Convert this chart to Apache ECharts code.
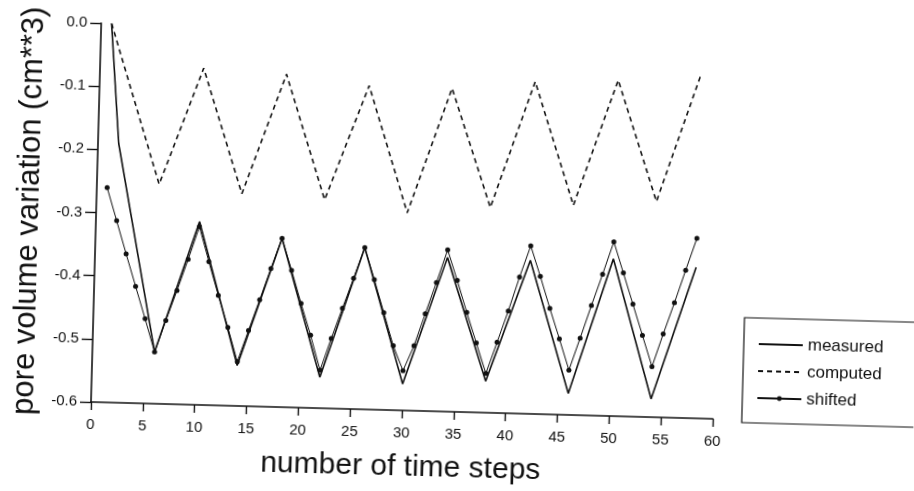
<!DOCTYPE html>
<html>
<head>
<meta charset="utf-8">
<script src="https://cdn.jsdelivr.net/npm/echarts@6/dist/echarts.min.js"></script>
<style>
  html, body { margin: 0; padding: 0; background: #fff; overflow: hidden; }
  /* the original is a slightly tilted scan, so tilt the whole chart about the axis origin */
  #chart { width: 914px; height: 491px; transform: rotate(1.55deg); transform-origin: 91px 402px; }
</style>
</head>
<body>
<div id="chart"></div>
<script>
// measured: vertices of the measured curve
var measuredSteps = [1, 2, 6, 10, 14, 18, 22, 26, 30, 34, 38, 42, 46, 50, 54, 58];
var measuredValues = [0.0, -0.19, -0.518, -0.31, -0.536, -0.333, -0.551, -0.344, -0.558,
  -0.356, -0.55, -0.357, -0.566, -0.351, -0.571, -0.361];

// computed (dashed)
var computedSteps = [1, 6, 10, 14, 18, 22, 26, 30, 34, 38, 42, 46, 50, 54, 58];
var computedValues = [0.0, -0.2525, -0.067, -0.264, -0.073, -0.27, -0.0875, -0.287, -0.088,
  -0.275, -0.074, -0.268, -0.068, -0.2585, -0.054];

// shifted: one dot per time step, 1..58
var shiftedSteps = [];
for (var i = 1; i <= 58; i++) shiftedSteps.push(i);
var shiftedValues = [
  -0.26, -0.312, -0.364, -0.415, -0.466, -0.518, -0.468, -0.42, -0.37, -0.318,
  -0.373, -0.426, -0.476, -0.53, -0.48, -0.431, -0.381, -0.333, -0.383, -0.435,
  -0.485, -0.54, -0.489, -0.441, -0.393, -0.344, -0.394, -0.446, -0.498, -0.537,
  -0.497, -0.446, -0.396, -0.344, -0.392, -0.442, -0.49, -0.538, -0.488, -0.438,
  -0.384, -0.334, -0.382, -0.432, -0.48, -0.529, -0.478, -0.426, -0.376, -0.324,
  -0.373, -0.422, -0.471, -0.52, -0.468, -0.418, -0.366, -0.315
];

var seriesNames = ['measured', 'computed', 'shifted'];

function pairs(xs, ys) {
  return xs.map(function (x, k) { return [x, ys[k]]; });
}

var font = 'Liberation Sans';
var ink = '#111';
var noDot = { color: 'rgba(0,0,0,0)', borderColor: 'rgba(0,0,0,0)', borderWidth: 0 };

var myChart = echarts.init(document.getElementById('chart'));
var option = {
  animation: false,
  backgroundColor: '#fff',
  grid: { left: 91, right: 201, top: 23, bottom: 89, outerBoundsMode: 'none' },
  legend: {
    data: [
      { name: seriesNames[0], itemStyle: noDot },
      { name: seriesNames[1], itemStyle: noDot },
      { name: seriesNames[2] }
    ],
    orient: 'vertical',
    left: 742,
    top: 300,
    borderColor: ink,
    borderWidth: 1.2,
    padding: [17, 40, 16, 14],
    itemGap: 9,
    itemWidth: 44,
    itemHeight: 6,
    itemTextGap: 12,
    textStyle: { fontFamily: font, fontSize: 17, lineHeight: 18, color: ink }
  },
  xAxis: {
    type: 'value',
    min: 0,
    max: 60,
    interval: 5,
    name: 'number of time steps',
    nameLocation: 'middle',
    nameGap: 42,
    nameTextStyle: { fontFamily: font, fontSize: 30, color: ink },
    axisLine: { onZero: false, lineStyle: { color: ink, width: 1.6 } },
    axisTick: { length: 8, lineStyle: { color: ink, width: 1.4 } },
    axisLabel: { fontFamily: font, fontSize: 15, color: ink, margin: 15 },
    splitLine: { show: false }
  },
  yAxis: {
    type: 'value',
    min: -0.6,
    max: 0,
    interval: 0.1,
    name: 'pore volume variation (cm**3)',
    nameLocation: 'middle',
    nameGap: 50,
    nameTextStyle: { fontFamily: font, fontSize: 31, color: ink },
    axisLine: { show: true, onZero: false, lineStyle: { color: ink, width: 1.6 } },
    axisTick: { show: true, length: 11, lineStyle: { color: ink, width: 1.4 } },
    axisLabel: {
      fontFamily: font, fontSize: 15, color: ink, margin: 14,
      formatter: function (v) { return Math.abs(v) < 1e-9 ? '0.0' : v.toFixed(1); }
    },
    splitLine: { show: false }
  },
  series: [
    {
      name: 'measured',
      type: 'line',
      data: pairs(measuredSteps, measuredValues),
      symbol: 'none',
      itemStyle: { color: ink },
      lineStyle: { color: ink, width: 1.6 }
    },
    {
      name: 'computed',
      type: 'line',
      data: pairs(computedSteps, computedValues),
      symbol: 'none',
      itemStyle: { color: ink },
      lineStyle: { color: ink, width: 1.6, type: [5, 4] }
    },
    {
      name: 'shifted',
      type: 'line',
      data: pairs(shiftedSteps, shiftedValues),
      symbol: 'circle',
      symbolSize: 5,
      itemStyle: { color: ink },
      lineStyle: { color: ink, width: 1 }
    }
  ]
};
myChart.setOption(option);
</script>
</body>
</html>
